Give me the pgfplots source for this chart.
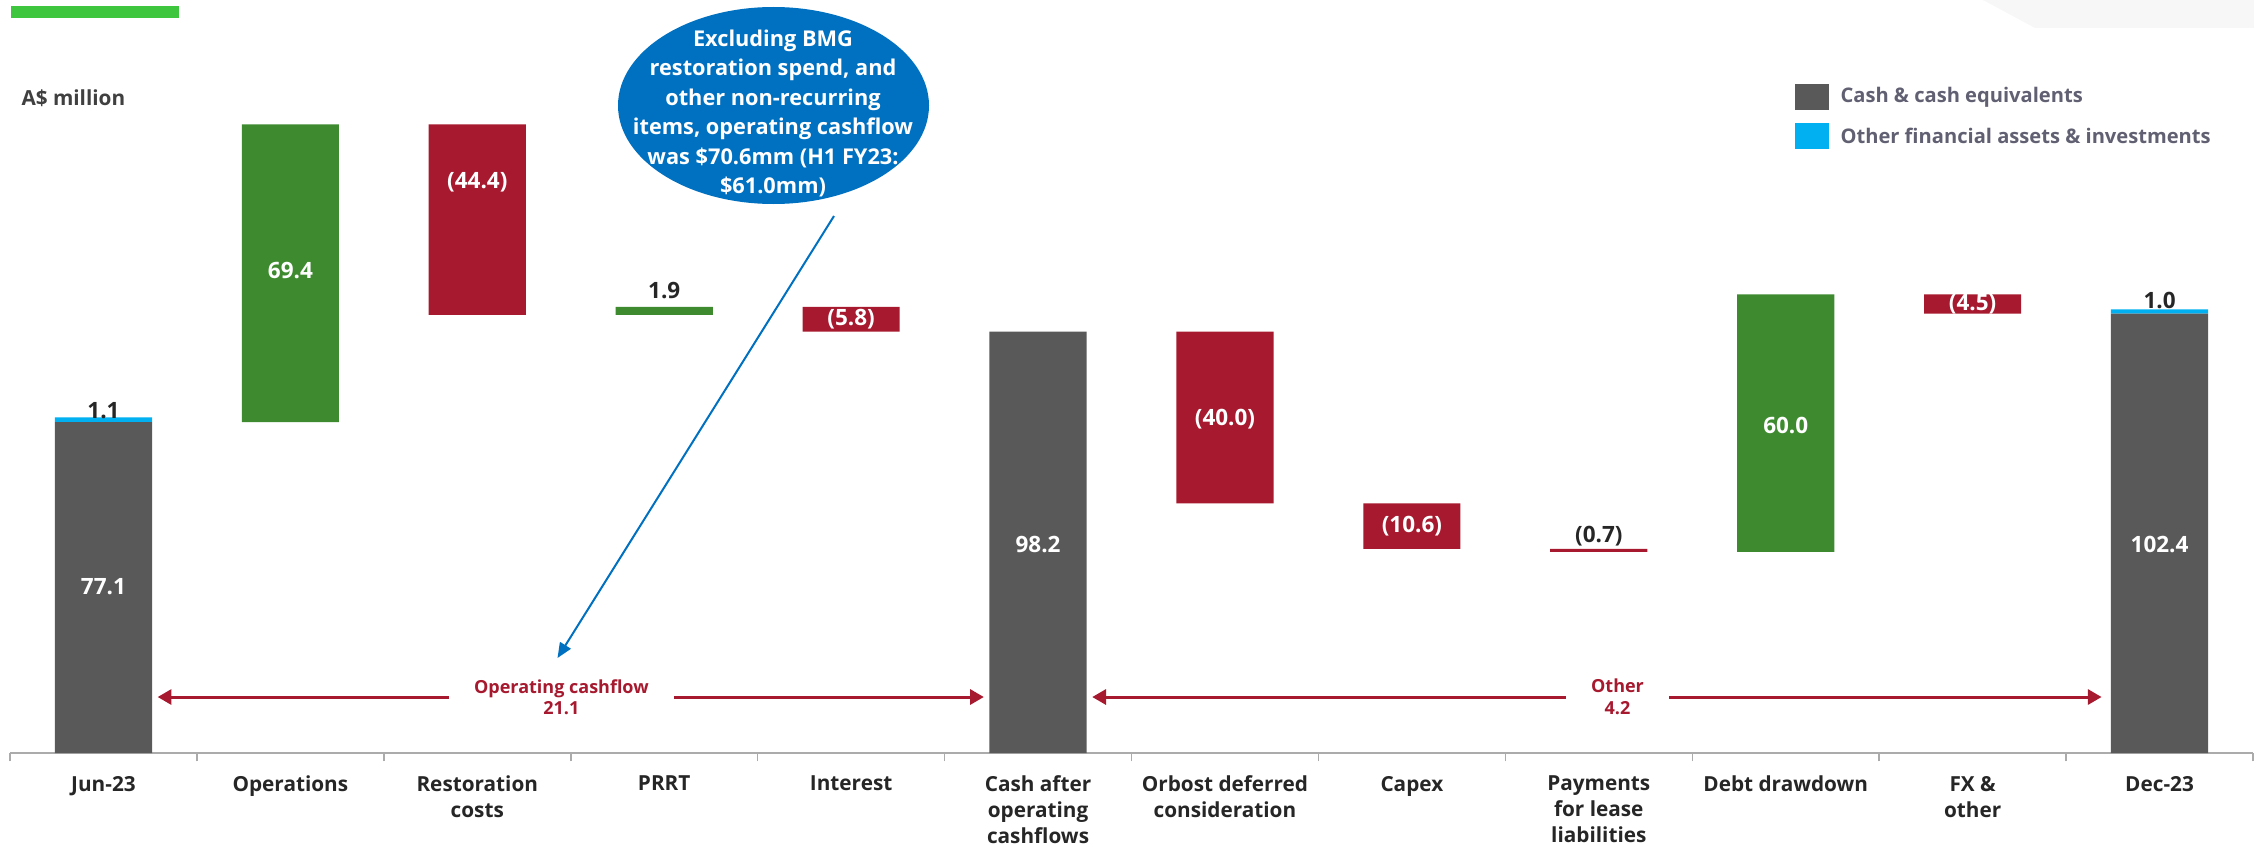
\documentclass[border=0pt]{standalone}
\usepackage{fontspec}
\setmainfont{Open Sans}
\usepackage{pgfplots}
\pgfplotsset{compat=1.18}
\usetikzlibrary{arrows.meta}
\definecolor{darkbar}{HTML}{595959}
\definecolor{bluebar}{HTML}{00B0F0}
\definecolor{greenbar}{HTML}{3E8B2F}
\definecolor{redbar}{HTML}{A6192E}
\definecolor{axgray}{HTML}{ABABAB}
\definecolor{labtext}{HTML}{262626}
\definecolor{legtext}{RGB}{96,96,114}
\definecolor{callout}{HTML}{0070C0}
\definecolor{topgreen}{RGB}{62,198,62}
\definecolor{graybg}{HTML}{F7F7F7}
\begin{document}
\begin{tikzpicture}
\path[use as bounding box] (-4pt,-39.6pt) rectangle (897.6pt,301.2pt);
\fill[graybg] (789.2pt,301.2pt) -- (810pt,290pt) -- (897.6pt,290pt) -- (897.6pt,301.2pt) -- cycle;
\fill[topgreen] (0.4pt,298.8pt) rectangle (67.6pt,294pt);
\node[anchor=west, inner sep=0pt, font=\bfseries\fontsize{8.3}{10}\selectfont, text=black!75] at (4.4pt,262pt) {A\$ million};
% legend
\fill[darkbar] (714pt,267.6pt) rectangle (727.6pt,257.2pt);
\fill[bluebar] (714pt,252pt) rectangle (727.6pt,241.6pt);
\node[anchor=west, inner sep=0pt, font=\bfseries\fontsize{8.05}{10}\selectfont, text=legtext] at (732pt,262.4pt) {Cash \& cash equivalents};
\node[anchor=west, inner sep=0pt, font=\bfseries\fontsize{8.05}{10}\selectfont, text=legtext] at (732pt,246.8pt) {Other financial assets \& investments};
\begin{axis}[
  at={(0,0)}, anchor=south west,
  scale only axis, width=897.2pt, height=301.2pt,
  xmin=-0.5, xmax=11.5, ymin=0, ymax=175.5,
  clip=false,
  hide y axis,
  axis x line*=bottom,
  x axis line style={draw=axgray, line width=0.8pt, -},
  ybar stacked, bar width=0.52,
  xtick={0,...,11},
  major tick length=0pt,
  xticklabels={Jun-23, Operations, {Restoration\\costs}, PRRT, Interest, {Cash after\\operating\\cashflows}, {Orbost deferred\\consideration}, Capex, {Payments\\for lease\\liabilities}, Debt drawdown, {FX \&\\other}, Dec-23},
  xticklabel style={align=center, font=\bfseries\fontsize{8.3}{10.4}\selectfont, text=labtext, anchor=north, inner sep=0pt, yshift=-9pt},
  extra x ticks={-0.5,0.5,...,11.5},
  extra x tick labels={},
  extra x tick style={tick align=outside, major tick length=3.3pt, tick style={draw=axgray, line width=0.6pt}},
]
\addplot[draw=none, fill=none, forget plot] coordinates {(0,0)(1,77.1)(2,102.1)(3,102.1)(4,98.2)(5,0)(6,58.2)(7,47.6)(8,46.9)(9,46.9)(10,102.4)(11,0)};
\addplot[draw=none, fill=darkbar] coordinates {(0,77.1)(1,0)(2,0)(3,0)(4,0)(5,98.2)(6,0)(7,0)(8,0)(9,0)(10,0)(11,102.4)};
\addplot[draw=none, fill=bluebar] coordinates {(0,1.1)(1,0)(2,0)(3,0)(4,0)(5,0)(6,0)(7,0)(8,0)(9,0)(10,0)(11,1.0)};
\addplot[draw=none, fill=greenbar] coordinates {(0,0)(1,69.4)(2,0)(3,1.9)(4,0)(5,0)(6,0)(7,0)(8,0)(9,60.0)(10,0)(11,0)};
\addplot[draw=none, fill=redbar] coordinates {(0,0)(1,0)(2,44.4)(3,0)(4,5.8)(5,0)(6,40.0)(7,10.6)(8,0.7)(9,0)(10,4.5)(11,0)};
\coordinate (v0) at (axis cs:0,38.7);
\coordinate (c0) at (axis cs:0,79.9);
\coordinate (v1) at (axis cs:1,112.5);
\coordinate (v2) at (axis cs:2,133);
\coordinate (c3) at (axis cs:3,107.8);
\coordinate (v4) at (axis cs:4,101.1);
\coordinate (v5) at (axis cs:5,48.5);
\coordinate (v6) at (axis cs:6,77.8);
\coordinate (v7) at (axis cs:7,52.8);
\coordinate (c8) at (axis cs:8,50.5);
\coordinate (v9) at (axis cs:9,76.4);
\coordinate (v10) at (axis cs:10,104.5);
\coordinate (v11) at (axis cs:11,48.5);
\coordinate (c11) at (axis cs:11,105.5);
\coordinate (a1) at (axis cs:0.29,13.05);
\coordinate (a2) at (axis cs:4.71,13.05);
\coordinate (a3) at (axis cs:5.29,13.05);
\coordinate (a4) at (axis cs:10.69,13.05);
\coordinate (t1) at (axis cs:2.45,13.05);
\coordinate (t2) at (axis cs:8.1,13.05);
\end{axis}
\tikzset{wl/.style={font=\bfseries\fontsize{9}{10}\selectfont, text=white, inner sep=0pt}, bl/.style={font=\bfseries\fontsize{9}{10}\selectfont, text=labtext, inner sep=0pt}}
\node[wl] at (v0) {77.1};
\node[bl] at (c0) {1.1};
\node[wl] at (v1) {69.4};
\node[wl] at (v2) {(44.4)};
\node[bl] at (c3) {1.9};
\node[wl] at (v4) {(5.8)};
\node[wl] at (v5) {98.2};
\node[wl] at (v6) {(40.0)};
\node[wl] at (v7) {(10.6)};
\node[bl] at (c8) {(0.7)};
\node[wl] at (v9) {60.0};
\node[wl] at (v10) {(4.5)};
\node[wl] at (v11) {102.4};
\node[bl] at (c11) {1.0};
% brackets
\draw[redbar, line width=1.2pt, {Triangle[length=5.5pt,width=6pt]}-{Triangle[length=5.5pt,width=6pt]}] (a1) -- (a2);
\draw[redbar, line width=1.2pt, {Triangle[length=5.5pt,width=6pt]}-{Triangle[length=5.5pt,width=6pt]}] (a3) -- (a4);
\node[fill=white, inner xsep=10pt, inner ysep=1pt, align=center, font=\bfseries\fontsize{7.2}{8.6}\selectfont, text=redbar] at (t1) {Operating cashflow\\21.1};
\node[fill=white, inner xsep=10pt, inner ysep=1pt, align=center, font=\bfseries\fontsize{7.2}{8.6}\selectfont, text=redbar] at (t2) {Other\\4.2};
% callout
\draw[callout, line width=0.8pt, -{Triangle[length=6pt,width=5pt]}] (329.6pt,214.8pt) -- (219pt,38pt);
\fill[callout] (305.4pt,259pt) ellipse [x radius=62.2pt, y radius=39.4pt];
\node[align=center, inner sep=0pt, font=\bfseries\fontsize{8.7}{11.8}\selectfont, text=white] at (305.2pt,255.8pt) {Excluding BMG\\restoration spend, and\\other non-recurring\\items, operating cashflow\\was \$70.6mm (H1 FY23:\\\$61.0mm)};
\end{tikzpicture}
\end{document}
